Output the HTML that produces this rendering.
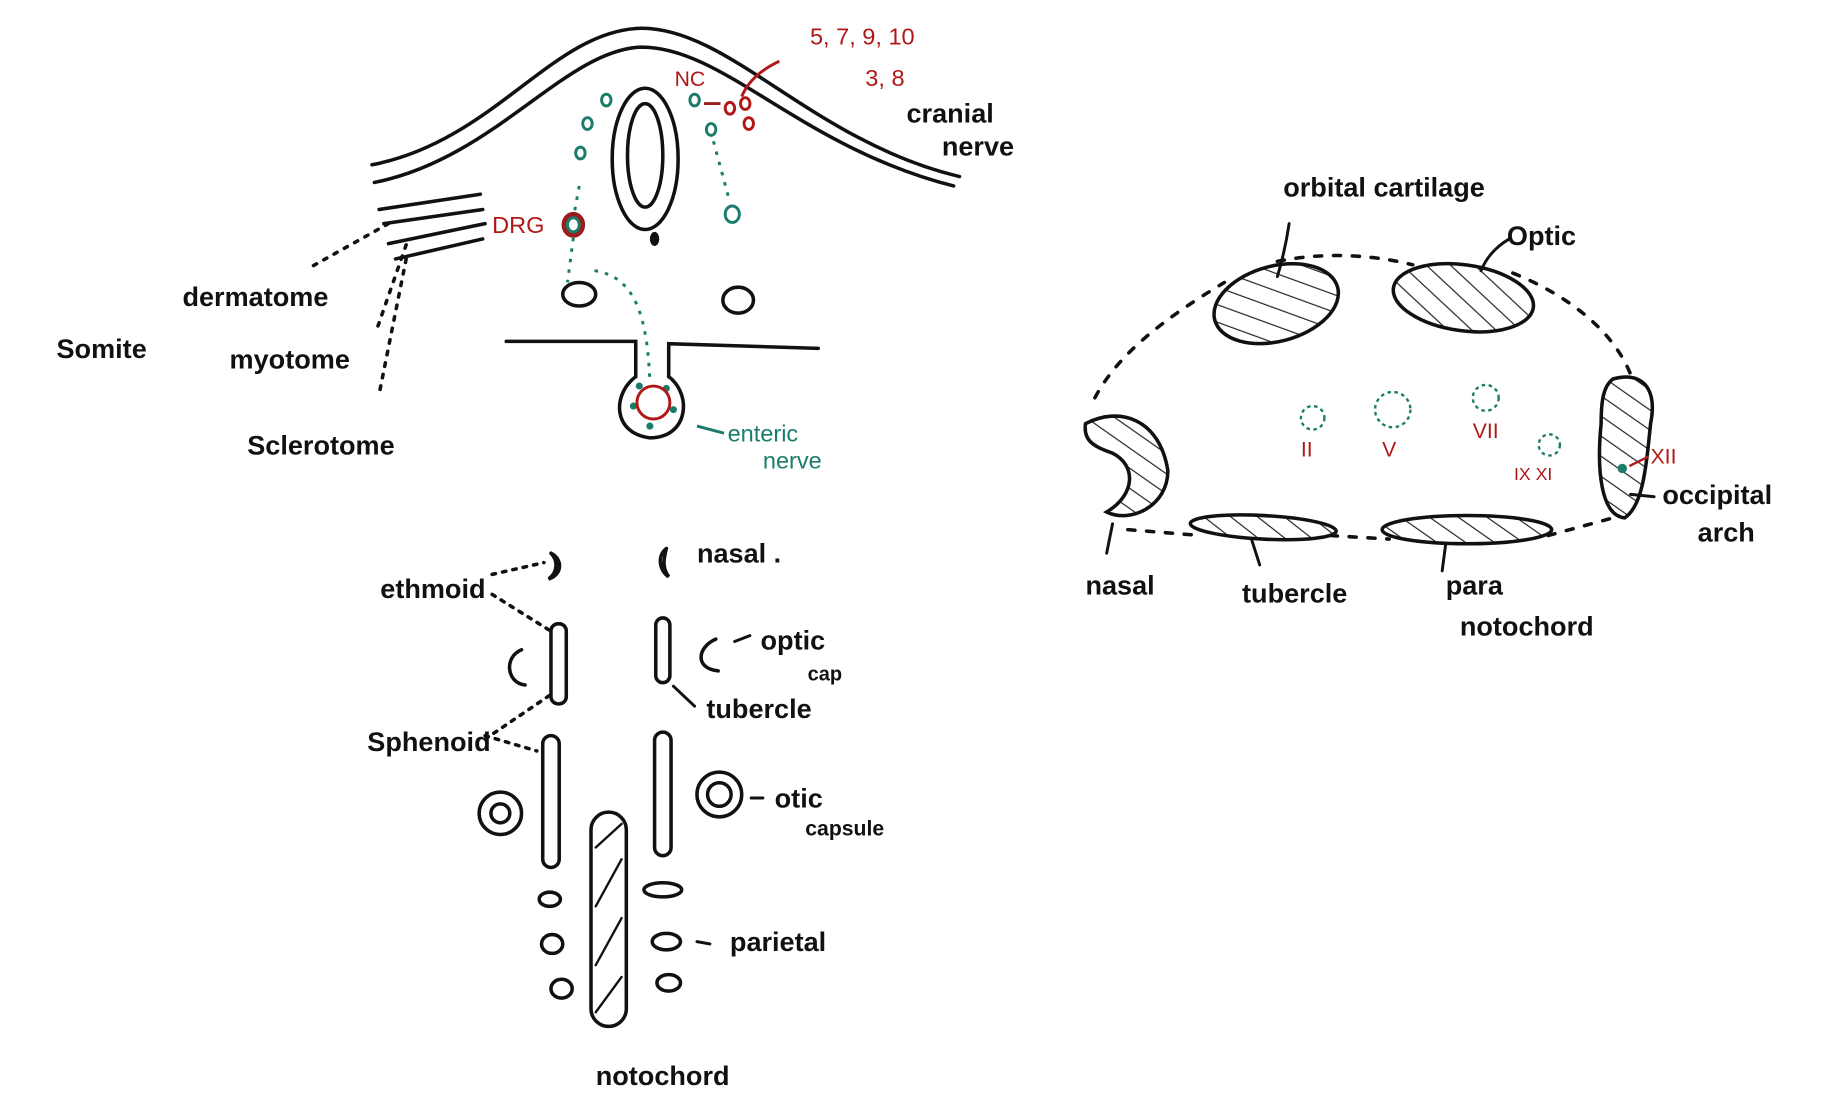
<!DOCTYPE html>
<html><head><meta charset="utf-8"><style>
html,body{margin:0;padding:0;background:#fff;width:1846px;height:1117px;overflow:hidden}
svg{display:block}
text{font-family:"Liberation Sans",sans-serif}
</style></head><body>
<svg width="1846" height="1117" viewBox="0 0 1568 949" preserveAspectRatio="none">
<defs>
<pattern id="h" width="14" height="14" patternUnits="userSpaceOnUse" patternTransform="rotate(-55)">
<line x1="0" y1="0" x2="0" y2="14" stroke="#222" stroke-width="2"/></pattern>
</defs>
<g fill="none" stroke="#111" stroke-width="3" stroke-linecap="round">
<!-- top-left: ectoderm -->
<path d="M316 140 C420 120 470 25 545 24 C620 24 690 120 815 150"/>
<path d="M318 155 C420 135 480 42 545 40 C615 40 680 125 810 158"/>
<ellipse cx="548" cy="135" rx="28" ry="60"/>
<ellipse cx="548" cy="132" rx="15" ry="44"/>
<path d="M322 178 L408 165 M326 190 L410 178 M330 207 L412 190 M336 220 L410 203"/>
<ellipse cx="492" cy="250" rx="14" ry="10"/>
<ellipse cx="627" cy="255" rx="13" ry="11"/>
<path d="M430 290 L540 290 L540 320 M568 320 L568 292 L695 296"/>
<path d="M540 320 C520 335 520 368 552 372 C585 372 588 335 568 320"/>
<!-- dotted somite arrows -->
<path d="M330 190 L262 228 M345 208 L320 280 M345 220 L322 335" stroke-dasharray="3 7"/>
<path d="M430 292 C400 292 ..." stroke="none"/>
</g>
<ellipse cx="556" cy="203" rx="4" ry="6" fill="#111"/>
<!-- teal bits -->
<g fill="none" stroke="#1a7d6b" stroke-width="2.5">
<ellipse cx="487" cy="191" rx="8" ry="9" stroke="#9b1c1c" stroke-width="4"/>
<ellipse cx="487" cy="191" rx="5" ry="6"/>
<ellipse cx="515" cy="85" rx="4" ry="5"/><ellipse cx="499" cy="105" rx="4" ry="5"/><ellipse cx="493" cy="130" rx="4" ry="5"/>
<ellipse cx="590" cy="85" rx="4" ry="5"/><ellipse cx="604" cy="110" rx="4" ry="5"/>
<ellipse cx="622" cy="182" rx="6" ry="7"/>
<path d="M492 158 L488 180 M487 202 L482 240 M606 120 L620 172 M505 230 C540 235 550 270 552 325" stroke-dasharray="3 6"/>
<path d="M598 88 L612 88" stroke="#9b1c1c"/>
<path d="M592 362 L615 368"/>
</g>
<g fill="#1a7d6b"><circle cx="543" cy="328" r="3"/><circle cx="538" cy="345" r="3"/><circle cx="566" cy="330" r="3"/><circle cx="572" cy="348" r="3"/><circle cx="552" cy="362" r="3"/></g>
<circle cx="555" cy="342" r="14" fill="none" stroke="#b01818" stroke-width="2.5"/>
<g fill="none" stroke="#b01818" stroke-width="2.5">
<ellipse cx="620" cy="92" rx="4" ry="5"/><ellipse cx="633" cy="88" rx="4" ry="5"/><ellipse cx="636" cy="105" rx="4" ry="5"/>
<path d="M662 52 C645 60 635 70 630 82"/>
</g>
<g font-size="20" fill="#b01818">
<text x="688" y="38">5, 7, 9, 10</text><text x="735" y="73">3, 8</text>
<text x="573" y="73" font-size="18">NC</text><text x="418" y="198">DRG</text>
</g>
<g font-size="23" fill="#111" font-weight="bold">
<text x="770" y="104">cranial</text><text x="800" y="132">nerve</text>
<text x="155" y="260">dermatome</text><text x="195" y="313">myotome</text>
<text x="210" y="386">Sclerotome</text><text x="48" y="304">Somite</text>
</g>
<g font-size="20" fill="#1a7d6b"><text x="618" y="375">enteric</text><text x="648" y="398">nerve</text></g>

<!-- bottom-left -->
<g fill="none" stroke="#111" stroke-width="3" stroke-linecap="round">
<path d="M468 470 C478 475 478 488 466 492 C474 486 474 476 468 470"/>
<path d="M566 466 C558 472 560 485 568 490 C562 482 564 474 566 466"/>
<rect x="468" y="530" width="13" height="68" rx="6"/>
<rect x="557" y="525" width="12" height="55" rx="6"/>
<path d="M443 552 C428 558 430 580 446 582 M608 543 C592 550 590 568 610 570"/>
<rect x="461" y="625" width="14" height="112" rx="7"/>
<rect x="556" y="622" width="14" height="105" rx="7"/>
<circle cx="425" cy="691" r="18"/><circle cx="425" cy="691" r="8"/>
<circle cx="611" cy="675" r="19"/><circle cx="611" cy="675" r="10"/>
<rect x="502" y="690" width="30" height="182" rx="15"/>
<path d="M506 720 L528 700 M506 770 L528 730 M506 820 L528 780 M506 860 L528 830" stroke-width="2"/>
<ellipse cx="467" cy="764" rx="9" ry="6"/><ellipse cx="469" cy="802" rx="9" ry="8"/><ellipse cx="477" cy="840" rx="9" ry="8"/>
<ellipse cx="563" cy="756" rx="16" ry="6"/><ellipse cx="566" cy="800" rx="12" ry="7"/><ellipse cx="568" cy="835" rx="10" ry="7"/>
<path d="M418 488 L462 478 M418 505 L466 535 M412 628 L468 590 M412 625 L456 638" stroke-dasharray="3 6"/>
<path d="M637 540 L624 545 M572 583 L590 600 M648 678 L638 678 M603 802 L592 800" stroke-width="2.5"/>
</g>
<g font-size="23" fill="#111" font-weight="bold">
<text x="592" y="478">nasal .</text><text x="323" y="508">ethmoid</text>
<text x="646" y="552">optic</text><text x="686" y="578" font-size="17">cap</text>
<text x="600" y="610">tubercle</text><text x="312" y="638">Sphenoid</text>
<text x="658" y="686">otic</text><text x="684" y="710" font-size="18">capsule</text>
<text x="620" y="808">parietal</text><text x="506" y="922">notochord</text>
</g>

<!-- right diagram -->
<g fill="none" stroke="#111" stroke-width="3" stroke-linecap="round">
<path d="M930 338 C950 300 990 270 1040 240 M1085 222 C1120 215 1160 215 1200 225 M1285 232 C1330 250 1370 280 1385 318 M958 450 L1020 455 M1130 455 L1180 458 M1315 455 L1370 440" stroke-dasharray="6 10"/>
<ellipse cx="1084" cy="258" rx="54" ry="32" fill="url(#h)" transform="rotate(-15 1084 258)"/>
<ellipse cx="1243" cy="253" rx="60" ry="28" fill="url(#h)" transform="rotate(8 1243 253)"/>
<path d="M922 360 C950 345 985 355 992 400 C992 430 960 445 940 435 C965 420 965 395 945 385 C930 380 920 375 922 360Z" fill="url(#h)"/>
<path d="M1370 322 C1395 315 1408 330 1402 360 C1398 400 1395 430 1380 440 C1360 438 1356 400 1360 360 C1360 340 1362 328 1370 322Z" fill="url(#h)"/>
<ellipse cx="1073" cy="448" rx="62" ry="10" fill="url(#h)" transform="rotate(3 1073 448)"/>
<ellipse cx="1246" cy="450" rx="72" ry="12" fill="url(#h)"/>
<path d="M1095 190 C1092 210 1088 225 1085 235 M1282 203 C1270 210 1262 220 1258 230 M945 445 L940 470 M1063 458 L1070 480 M1228 462 L1225 485 M1385 420 L1405 422" stroke-width="2.5"/>
</g>
<g fill="none" stroke="#1a7d6b" stroke-width="2" stroke-dasharray="3 3">
<circle cx="1115" cy="355" r="10"/><circle cx="1183" cy="348" r="15"/><circle cx="1262" cy="338" r="11"/><circle cx="1316" cy="378" r="9"/>
</g>
<circle cx="1378" cy="398" r="4" fill="#1a7d6b"/>
<path d="M1384 396 L1400 388" stroke="#b01818" stroke-width="2"/>
<g font-size="18" fill="#b01818" font-family="Liberation Serif">
<text x="1105" y="388" font-family="Liberation Serif">II</text><text x="1174" y="388" font-family="Liberation Serif">V</text>
<text x="1251" y="372" font-family="Liberation Serif">VII</text><text x="1286" y="408" font-family="Liberation Serif" font-size="15">IX XI</text>
<text x="1402" y="394" font-family="Liberation Serif">XII</text>
</g>
<g font-size="23" fill="#111" font-weight="bold">
<text x="1090" y="167">orbital cartilage</text><text x="1280" y="208">Optic</text>
<text x="1412" y="428">occipital</text><text x="1442" y="460">arch</text>
<text x="922" y="505">nasal</text><text x="1055" y="512">tubercle</text>
<text x="1228" y="505">para</text><text x="1240" y="540">notochord</text>
</g>
</svg>
</body></html>
